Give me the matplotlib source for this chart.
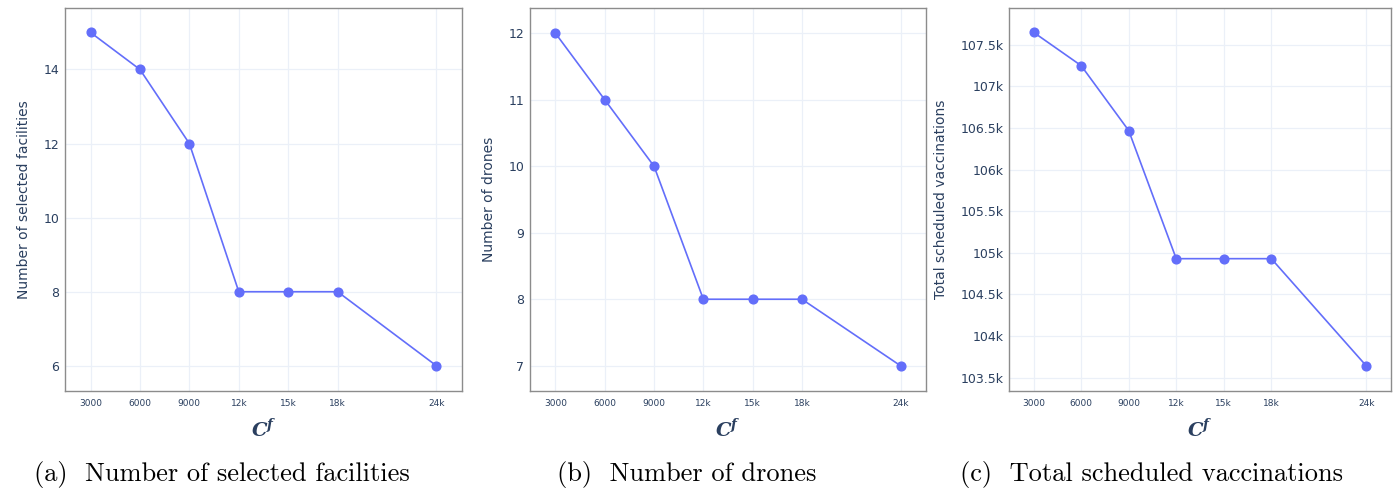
import matplotlib
matplotlib.use("Agg")
import matplotlib.pyplot as plt

# fixed-cost levels tested
cost_values = [3000, 6000, 9000, 12000, 15000, 18000, 24000]
cost_labels = ["3000", "6000", "9000", "12k", "15k", "18k", "24k"]

selected_facilities = [15, 14, 12, 8, 8, 8, 6]
num_drones = [12, 11, 10, 8, 8, 8, 7]
scheduled_vaccinations = [107650, 107250, 106470, 104930, 104930, 104930, 103640]

facility_ticks = [6, 8, 10, 12, 14]
drone_ticks = [7, 8, 9, 10, 11, 12]
vacc_ticks = [103500, 104000, 104500, 105000, 105500, 106000, 106500, 107000, 107500]
vacc_tick_labels = ["103.5k", "104k", "104.5k", "105k", "105.5k",
                    "106k", "106.5k", "107k", "107.5k"]

LINE = "#636efa"
GRID = "#ebf0f8"
TEXT = "#2a3f5f"
FRAME = "#8c8c8c"

W, H = 1397, 490
fig = plt.figure(figsize=(W / 100, H / 100), dpi=100)
plt.rcParams["mathtext.fontset"] = "dejavuserif"


def make_axes(left, right, top=8, bottom=391):
    return fig.add_axes([left / W, 1 - bottom / H, (right - left) / W, (bottom - top) / H])


def style_panel(ax, values, yticks, ylabels, ylim, ylabel):
    ax.plot(cost_values, values, color=LINE, lw=1.2, marker="o", ms=6.3,
            mec=LINE, mfc=LINE, zorder=3, clip_on=False)
    ax.set_xlim(1450, 25550)
    ax.set_ylim(*ylim)
    ax.set_xticks(cost_values)
    ax.set_xticklabels(cost_labels, fontsize=6.5, color=TEXT)
    ax.set_yticks(yticks)
    ax.set_yticklabels(ylabels, fontsize=9, color=TEXT)
    ax.tick_params(length=0, pad=4)
    ax.tick_params(axis="x", pad=6)
    ax.grid(True, color=GRID, lw=0.9)
    ax.set_axisbelow(True)
    for sp in ax.spines.values():
        sp.set_color(FRAME)
        sp.set_linewidth(1.0)
    ax.set_ylabel(ylabel, fontsize=10, color=TEXT, labelpad=9)
    ax.set_xlabel(r"$\mathbfit{C^f}$", fontsize=14, color=TEXT, labelpad=7)


ax1 = make_axes(65, 462)
style_panel(ax1, selected_facilities, facility_ticks,
            [str(t) for t in facility_ticks], (5.32, 15.66),
            "Number of selected facilities")

ax2 = make_axes(530, 926)
style_panel(ax2, num_drones, drone_ticks,
            [str(t) for t in drone_ticks], (6.62, 12.38),
            "Number of drones")

ax3 = make_axes(1009, 1391)
style_panel(ax3, scheduled_vaccinations, vacc_ticks, vacc_tick_labels,
            (103340, 107942), "Total scheduled vaccinations")

captions = [(222, "(a)  Number of selected facilities"),
            (687, "(b)  Number of drones"),
            (1151, "(c)  Total scheduled vaccinations")]
for cx, txt in captions:
    fig.text(cx / W, 1 - 474 / H, txt, family="cmr10", fontsize=19,
             ha="center", va="center", color="black")

fig.savefig("out.png", dpi=100, facecolor="white")
